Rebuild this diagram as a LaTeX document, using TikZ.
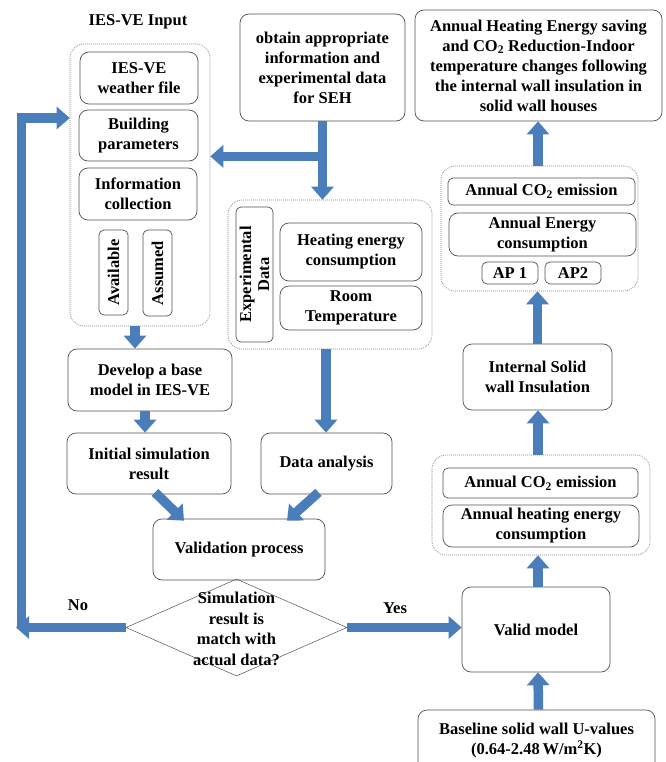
\documentclass[tikz,border=0pt]{standalone}
\usepackage{fontspec}
\setmainfont{Liberation Serif}
\usetikzlibrary{arrows.meta,shapes.geometric,calc}
\definecolor{arrowblue}{HTML}{4A7EBB}
\definecolor{boxline}{HTML}{505050}
\tikzset{
  box/.style={draw=boxline, line width=0.7pt, rounded corners=9pt, align=center,
    font=\bfseries\fontsize{16.5}{20}\selectfont, inner sep=1pt},
  smallbox/.style={box, rounded corners=5pt},
  group/.style={draw=gray, line width=0.6pt, dash pattern=on 1pt off 1pt, rounded corners=14pt},
  bluearrow/.style={draw=arrowblue, line width=9.5pt, -{Triangle[width=22pt,length=13pt]}},
  blueline/.style={draw=arrowblue, line width=9.5pt},
  lbl/.style={font=\bfseries\fontsize{16.5}{20}\selectfont, inner sep=0pt, align=center}
}
\begin{document}
\begin{tikzpicture}[x=1pt,y=-1pt]
\useasboundingbox (0,0) rectangle (665,762);
\clip (0,0) rectangle (665,762);
% ---------- left column ----------
\node[lbl] (title) at (138,22) {IES-VE Input};
\node[group, minimum width=140pt, minimum height=282pt] (g1) at (140,185) {};
\node[box, minimum width=118pt, minimum height=52pt] (weather) at (139,78) {IES-VE\\weather file};
\node[box, minimum width=119pt, minimum height=51pt] (build) at (138.5,135.5) {Building\\parameters};
\node[box, minimum width=118pt, minimum height=52pt] (info) at (138,194) {Information\\collection};
\node[smallbox, rotate=90, minimum width=85pt, minimum height=29pt] (avail) at (113.5,272.5) {Available};
\node[smallbox, rotate=90, minimum width=86pt, minimum height=29pt] (assumed) at (157.5,273) {Assumed};
\node[box, minimum width=164pt, minimum height=62pt] (develop) at (150,380) {Develop a base\\model in IES-VE};
\node[box, minimum width=164pt, minimum height=61pt] (initial) at (149,463.5) {Initial simulation\\result};
% ---------- middle column ----------
\node[box, minimum width=165pt, minimum height=107pt] (obtain) at (322.5,67.5) {obtain appropriate\\information and\\experimental data\\for SEH};
\node[group, minimum width=204pt, minimum height=149pt] (g2) at (330,274.5) {};
\node[smallbox, rotate=90, minimum width=135pt, minimum height=37pt, font=\bfseries\fontsize{16.5}{18}\selectfont] (exp) at (254.5,274.5) {Experimental\\Data};
\node[box, minimum width=142pt, minimum height=58pt] (heat) at (351,252) {Heating energy\\consumption};
\node[box, minimum width=142pt, minimum height=44pt] (room) at (351,308) {Room\\Temperature};
\node[box, minimum width=131pt, minimum height=61pt] (dataan) at (326.5,463.5) {Data analysis};
\node[box, minimum width=172pt, minimum height=61pt] (valid) at (239,549.5) {Validation process};
\node[draw=boxline, line width=0.5pt, diamond, minimum width=221pt, minimum height=97pt, inner sep=0pt] (dec) at (236.5,627.5) {};
\node[lbl, font=\bfseries\fontsize{16.5}{20.5}\selectfont] (dectext) at (236.5,629) {Simulation\\result is\\match with\\actual data?};
\node[lbl] (no) at (78,605) {No};
\node[lbl] (yes) at (395,608) {Yes};
% ---------- right column ----------
\node[box, minimum width=247pt, minimum height=111pt] (result) at (538.5,65.5) {Annual Heating Energy saving\\and CO\textsubscript{2} Reduction-Indoor\\temperature changes following\\the internal wall insulation in\\solid wall houses};
\node[group, minimum width=197pt, minimum height=125pt] (g3) at (539.5,228.5) {};
\node[smallbox, minimum width=187pt, minimum height=27pt] (co2a) at (541.5,191.5) {Annual CO\textsubscript{2} emission};
\node[box, minimum width=187pt, minimum height=43pt] (energy) at (542.5,234.5) {Annual Energy\\consumption};
\node[smallbox, minimum width=56pt, minimum height=22pt] (ap1) at (510,273) {AP 1};
\node[smallbox, minimum width=56pt, minimum height=22pt] (ap2) at (573,273) {AP2};
\node[box, minimum width=149pt, minimum height=66pt] (internal) at (537.5,377) {Internal Solid\\wall Insulation};
\node[group, minimum width=218pt, minimum height=100pt] (g4) at (541,505) {};
\node[smallbox, minimum width=195pt, minimum height=30pt] (co2b) at (540.5,483) {Annual CO\textsubscript{2} emission};
\node[box, minimum width=196pt, minimum height=42pt] (heatb) at (541,526) {Annual heating energy\\consumption};
\node[box, minimum width=148pt, minimum height=85pt] (validm) at (536,629.5) {Valid model};
\node[box, minimum width=237pt, minimum height=62pt] (base) at (536.5,741) {Baseline solid wall U-values\\(0.64-2.48\,W/m\textsuperscript{2}K)};
% ---------- arrows ----------
\draw[bluearrow] ([xshift=-5pt]g1.south) -- ([xshift=-5pt]g1.south |- develop.north);
\draw[bluearrow] ([xshift=-5pt]develop.south) -- ([xshift=-5pt]develop.south |- initial.north);
\coordinate (branch) at ($(obtain.south)+(0,35)$);
\draw[bluearrow] (obtain.south) -- (obtain.south |- g2.north);
\draw[bluearrow] ([xshift=4pt]branch) -- (branch -| g1.east);
\draw[bluearrow] ([xshift=-4pt]g2.south) -- ([xshift=-4pt]g2.south |- dataan.north);
\draw[bluearrow] ([xshift=6pt,yshift=2pt]initial.south) -- ([xshift=-55pt,yshift=-2pt]valid.north);
\draw[bluearrow] ([xshift=-8pt,yshift=2pt]dataan.south) -- ([xshift=48pt,yshift=-2pt]valid.north);
\coordinate (cornerlow) at (21.5,627.5);
\coordinate (cornerup) at (21.5,118);
\draw[bluearrow] (dec.west) -- (16,627.5);
\draw[blueline, line join=miter] (cornerlow) -- (cornerup) -- (58,118);
\draw[bluearrow] (cornerup) -- (cornerup -| g1.west);
\draw[bluearrow] (dec.east) -- (dec.east -| validm.west);
\draw[bluearrow] ([xshift=2pt]base.north) -- ([xshift=2pt]validm.south);
\draw[bluearrow] ([xshift=2pt]validm.north) -- ([xshift=2pt]validm.north |- g4.south);
\draw[bluearrow] ([xshift=-3pt]g4.north) -- ([xshift=-3pt]g4.north |- internal.south);
\draw[bluearrow] (internal.north) -- (internal.north |- g3.south);
\draw[bluearrow] ([xshift=-1.5pt]g3.north) -- ([xshift=-1.5pt]g3.north |- result.south);
\end{tikzpicture}
\end{document}
